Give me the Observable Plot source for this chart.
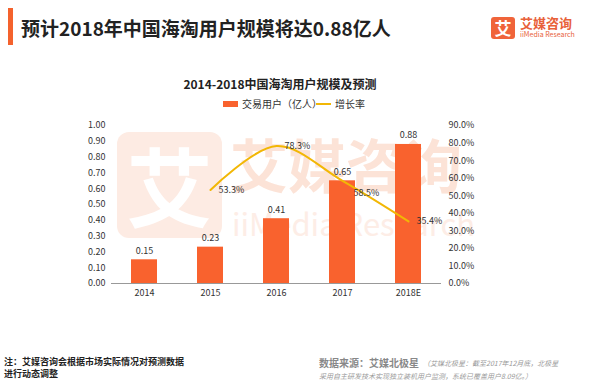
<!DOCTYPE html>
<html><head><meta charset="utf-8">
<script src="https://cdn.jsdelivr.net/npm/d3@7"></script>
<script src="https://cdn.jsdelivr.net/npm/@observablehq/plot@0.6"></script>
<style>
body{margin:0;background:#fff;font-family:"Noto Sans CJK SC","Noto Sans",sans-serif;}
#wrap{position:relative;width:610px;height:392px;overflow:hidden;background:#fff;}
.abs{position:absolute;white-space:nowrap;}
</style></head>
<body><div id="wrap">
<div class="abs" style="left:8px;top:8px;width:5px;height:37px;background:#F4622D;"></div>
<div class="abs" style="left:21px;top:16px;font-size:19px;font-weight:bold;color:#222;line-height:24px;">预计2018年中国海淘用户规模将达0.88亿人</div>
<div class="abs" style="left:491px;top:17px;width:24px;height:22px;background:#F0643A;border-radius:3px;color:#fff;font-size:17px;font-weight:bold;text-align:center;line-height:22px;">艾</div>
<div class="abs" style="left:520px;top:15px;font-size:13px;color:#E8613A;font-weight:bold;line-height:16px;">艾媒咨询</div>
<div class="abs" style="left:520px;top:30px;font-size:7px;color:#E8613A;line-height:8px;">iiMedia Research</div>

<!-- watermark -->
<div class="abs" style="left:117px;top:132px;width:105px;height:106px;background:#FDEBE3;border-radius:12px;color:#fff;font-size:86px;font-weight:bold;text-align:center;line-height:104px;">艾</div>
<div class="abs" style="left:230px;top:128px;font-size:58px;font-weight:bold;color:#FCE3D7;line-height:70px;">艾媒咨询</div>
<div class="abs" style="left:232px;top:203px;font-size:31px;color:#FDEDE6;line-height:40px;">iiMedia Research</div>

<div class="abs" style="left:0;top:76px;width:560px;text-align:center;font-size:12px;font-weight:bold;color:#222;line-height:16px;">2014-2018中国海淘用户规模及预测</div>
<div class="abs" style="left:223px;top:101px;width:15px;height:6px;background:#F9622E;"></div>
<div class="abs" style="left:242px;top:97px;font-size:10px;color:#333;line-height:14px;">交易用户（亿人）</div>
<div class="abs" style="left:316px;top:103px;width:15px;height:2px;background:#F2B705;"></div>
<div class="abs" style="left:335px;top:97px;font-size:10px;color:#333;line-height:14px;">增长率</div>

<div id="chart" class="abs" style="left:0;top:110px;"></div>

<div class="abs" style="left:4px;top:356px;font-size:9px;font-weight:bold;color:#222;line-height:12px;">注：艾媒咨询会根据市场实际情况对预测数据<br>进行动态调整</div>
<div class="abs" style="left:319px;top:356px;font-size:10px;font-weight:bold;color:#888;line-height:14px;">数据来源：艾媒北极星</div>
<div class="abs" style="left:423px;top:358px;font-size:7px;font-style:italic;color:#999;line-height:10px;">（艾媒北极星：截至2017年12月底，北极星</div>
<div class="abs" style="left:319px;top:371px;font-size:7px;font-style:italic;color:#999;line-height:10px;">采用自主研发技术实现独立装机用户监测，系统已覆盖用户8.09亿。）</div>
</div>
<script>
const years = ["2014", "2015", "2016", "2017", "2018E"];
const users = [0.15, 0.23, 0.41, 0.65, 0.88];
const growth = [null, 53.3, 78.3, 58.5, 35.4];
const leftTicks = [0, 0.1, 0.2, 0.3, 0.4, 0.5, 0.6, 0.7, 0.8, 0.9, 1.0];
const rightTicks = [0, 10, 20, 30, 40, 50, 60, 70, 80, 90];
const rateMax = 90;

const idx = years.map((_, i) => i);
const rateIdx = idx.filter(i => growth[i] != null);
const toY = v => v / rateMax;

const chart = Plot.plot({
  width: 610,
  height: 200,
  marginLeft: 111,
  marginRight: 169,
  marginTop: 15,
  marginBottom: 27,
  style: {fontFamily: '"Noto Sans CJK SC","Noto Sans",sans-serif', fontSize: "9px", color: "#333", background: "transparent"},
  x: {domain: years, paddingInner: 0.6, paddingOuter: 0.3, label: null},
  y: {domain: [0, 1], label: null},
  marks: [
    Plot.barY(idx, {x: i => years[i], y: i => users[i], fill: "#F9622E"}),
    Plot.ruleY([0], {stroke: "#999", strokeWidth: 1}),
    Plot.axisX({tickSize: 0, tickPadding: 6, label: null}),
    Plot.axisY(leftTicks, {tickSize: 0, tickPadding: 6, tickFormat: d => d.toFixed(2), label: null}),
    Plot.axisY(rightTicks.map(toY), {anchor: "right", tickSize: 0, tickPadding: 7, tickFormat: d => (d * rateMax).toFixed(1) + "%", label: null}),
    Plot.text(idx, {x: i => years[i], y: i => users[i], text: i => users[i].toFixed(2), dy: -9, fill: "#333"}),
    Plot.line(rateIdx, {x: i => years[i], y: i => toY(growth[i]), stroke: "#F2B705", strokeWidth: 2, curve: "catmull-rom"}),
    Plot.text(rateIdx, {filter: i => i !== 3, x: i => years[i], y: i => toY(growth[i]), text: i => growth[i].toFixed(1) + "%", textAnchor: "start", dx: 8, fill: "#333"}),
    Plot.text(rateIdx, {filter: i => i === 3, x: i => years[i], y: i => toY(growth[i]), text: i => growth[i].toFixed(1) + "%", textAnchor: "start", dx: 11, dy: 12, fill: "#333"})
  ]
});
document.getElementById("chart").appendChild(chart);
</script>
</body></html>
